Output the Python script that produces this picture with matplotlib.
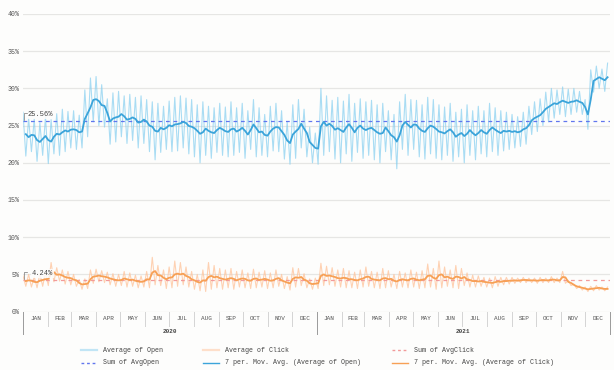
import matplotlib
matplotlib.use("Agg")
import matplotlib.pyplot as plt
import numpy as np
import pandas as pd
from matplotlib.lines import Line2D

# ---------------- data (~2 readings per week) ----------------
open_raw = [
    26.8, 20.9, 26.0, 21.5, 25.9, 20.2, 25.4, 21.0, 26.2, 19.9, 25.8, 21.2, 26.6, 21.0, 27.2, 21.5,
    26.9, 22.0, 27.0, 21.8, 26.4, 22.0, 29.8, 23.5, 31.4, 25.5, 31.6, 25.0, 30.5, 24.8, 28.6, 22.5,
    29.4, 22.8, 29.6, 23.5, 29.0, 22.6, 29.2, 23.0, 28.8, 22.0, 29.0, 22.6, 28.5, 21.5, 28.2, 20.4,
    28.0, 21.4, 27.6, 21.8, 28.3, 21.5, 28.8, 21.6, 29.0, 22.0, 28.7, 21.2, 28.5, 20.8, 27.8, 20.0,
    28.2, 21.0, 27.6, 20.6, 27.4, 21.4, 28.0, 21.0, 27.5, 20.8, 28.2, 21.0, 27.4, 21.4, 28.0, 20.6,
    27.0, 21.8, 28.5, 20.8, 27.4, 21.0, 26.5, 20.8, 27.6, 21.6, 28.0, 21.5, 27.0, 20.5, 25.5, 19.8,
    27.8, 20.6, 28.5, 22.0, 27.2, 20.8, 24.8, 20.0, 24.0, 19.8,
    30.0, 21.0, 29.0, 21.5, 28.4, 20.5, 28.8, 20.0, 28.3, 21.2, 29.2, 20.2, 28.0, 21.4, 28.6, 20.6,
    28.2, 21.0, 28.4, 20.4, 27.8, 20.0, 28.0, 21.5, 27.0, 20.4, 26.5, 19.2, 28.2, 21.8, 29.2, 21.0,
    28.5, 21.8, 28.4, 20.8, 27.8, 20.5, 28.8, 21.2, 28.5, 20.6, 27.8, 20.4, 27.5, 21.0, 28.0, 20.2,
    26.8, 20.8, 27.2, 20.0, 27.8, 21.0, 27.0, 20.4, 27.6, 21.2, 27.0, 20.8, 28.0, 21.5, 27.4, 21.0,
    27.0, 21.6, 26.8, 21.8, 26.5, 22.0, 26.2, 22.2, 26.8, 22.5, 27.6, 23.8, 28.2, 24.2, 28.6, 25.0,
    29.5, 25.5, 30.0, 26.0, 29.8, 26.5, 30.2, 26.2, 29.9, 26.5, 30.0, 26.8, 29.6, 26.5, 28.5, 24.5,
    32.5, 29.5, 33.0, 30.0, 32.6, 29.6, 33.4,
]

click_raw = [
    4.8, 3.4, 5.0, 3.3, 4.7, 3.2, 5.1, 3.4, 5.3, 3.5, 6.6, 4.0, 5.9, 4.1, 5.6, 3.7,
    5.4, 3.6, 5.0, 3.4, 4.3, 3.0, 4.4, 3.1, 5.6, 3.8, 5.7, 4.0, 5.5, 3.9, 5.3, 3.6,
    5.1, 3.4, 5.0, 3.5, 5.4, 3.3, 5.2, 3.4, 4.9, 3.2, 4.8, 3.3, 5.4, 3.2, 7.3, 3.6,
    6.2, 3.5, 5.6, 3.1, 6.0, 3.2, 6.8, 3.4, 6.6, 3.6, 6.0, 3.3, 5.4, 3.0, 5.0, 2.8,
    5.6, 2.7, 6.6, 3.0, 6.2, 3.2, 5.8, 3.0, 5.6, 3.2, 5.8, 3.0, 5.4, 3.3, 5.6, 3.2,
    5.2, 3.1, 5.7, 3.2, 5.3, 3.3, 5.5, 3.1, 5.2, 3.2, 5.6, 3.4, 5.0, 3.1, 4.7, 2.9,
    5.9, 3.3, 5.8, 3.5, 5.1, 3.2, 4.4, 3.0, 4.5, 3.1,
    6.5, 3.5, 6.1, 3.6, 5.9, 3.4, 5.6, 3.3, 5.8, 3.2, 5.5, 3.2, 5.3, 3.1, 5.6, 3.3,
    6.0, 3.4, 5.4, 3.2, 5.3, 3.1, 5.8, 3.2, 5.5, 3.3, 5.0, 3.1, 5.4, 3.3, 5.2, 3.2,
    5.6, 3.3, 5.3, 3.1, 5.5, 3.2, 6.4, 3.3, 5.8, 3.0, 6.8, 3.2, 6.0, 3.4, 5.6, 3.2,
    6.2, 3.1, 5.8, 3.5, 5.2, 3.3, 4.9, 3.3, 4.8, 3.4, 4.6, 3.3, 4.5, 3.2, 4.7, 3.4,
    4.6, 3.6, 4.6, 3.7, 4.6, 3.8, 4.5, 3.9, 4.6, 3.9, 4.5, 3.9, 4.5, 3.8, 4.6, 3.9,
    4.5, 3.9, 4.7, 3.9, 4.5, 3.9, 5.4, 3.8, 4.2, 3.5, 3.7, 3.1, 3.5, 2.9, 3.3, 2.7,
    3.4, 2.8, 3.5, 2.9, 3.3, 2.8, 3.3,
]

AVG_OPEN = 25.56
AVG_CLICK = 4.24
months = ["JAN", "FEB", "MAR", "APR", "MAY", "JUN", "JUL", "AUG", "SEP", "OCT", "NOV", "DEC"]
years = ["2020", "2021"]
y_ticks = [0, 5, 10, 15, 20, 25, 30, 35, 40]

# ---------------- styling ----------------
FONT = ["Liberation Mono", "DejaVu Sans Mono"]
plt.rcParams["font.family"] = FONT
BG = "#fdfdfc"
C_OPEN_RAW = "#86cff0"
C_OPEN_MA = "#3ba4da"
C_OPEN_AVG = "#6176ee"
C_CLICK_RAW = "#ffc39a"
C_CLICK_MA = "#f7a055"
C_CLICK_AVG = "#f29a9a"

W, H = 614, 370
fig = plt.figure(figsize=(W / 100, H / 100), dpi=100, facecolor=BG)
x0, x1, ytop, ybot = 23, 610, 14, 311.6
ax = fig.add_axes([x0 / W, (H - ybot) / H, (x1 - x0) / W, (ybot - ytop) / H])
ax.set_facecolor(BG)

dates = pd.date_range("2020-01-01", periods=len(open_raw), freq="84h")
s_open = pd.Series(open_raw, index=dates)
s_click = pd.Series(click_raw, index=dates)
ma_open = s_open.rolling(2).mean()
ma_click = s_click.rolling(2).mean()

start, end = pd.Timestamp("2020-01-01"), pd.Timestamp("2022-01-01")
ax.set_xlim(start, end)
ax.set_ylim(0, 40)

for v in y_ticks:
    ax.axhline(v, color="#e6e6e4", lw=0.9, zorder=0)

ax.plot(dates, open_raw, color=C_OPEN_RAW, lw=0.8, alpha=0.7, zorder=2)
ax.plot(dates, click_raw, color=C_CLICK_RAW, lw=0.8, alpha=0.75, zorder=2)
ax.axhline(AVG_OPEN, color=C_OPEN_AVG, lw=0.9, ls=(0, (3, 3)), zorder=3)
ax.axhline(AVG_CLICK, color=C_CLICK_AVG, lw=0.9, ls=(0, (3, 3)), zorder=3)
ax.plot(dates, ma_open, color=C_OPEN_MA, lw=1.3, zorder=4)
ax.plot(dates, ma_click, color=C_CLICK_MA, lw=1.3, zorder=4)

# y axis
ax.set_yticks(y_ticks)
ax.set_yticklabels([f"{v}%" for v in y_ticks], fontsize=4.8, color="#555555")
ax.tick_params(axis="y", length=0, pad=2.5)
ax.set_xticks([])
for sp in ax.spines.values():
    sp.set_visible(False)

# value labels for the average lines
ytr = ax.get_yaxis_transform()
def px_to_frac(px):
    return (px - x0) / (x1 - x0)
def py_to_val(py):
    return (ybot - py) / (ybot - ytop) * 40

for val, tx in [(AVG_OPEN, 28), (AVG_CLICK, 32)]:
    yl = (ybot - (ybot - ytop) * val / 40)
    ax.text(px_to_frac(tx), py_to_val(yl - 6.5), f"{val:.2f}%", transform=ytr,
            fontsize=5, color="#444444", va="center", ha="left", zorder=6,
            bbox=dict(boxstyle="square,pad=0.1", fc=BG, ec="none", alpha=0.85))
    ax.plot([px_to_frac(24), px_to_frac(24), px_to_frac(27)],
            [py_to_val(yl - 1.5), py_to_val(yl - 8), py_to_val(yl - 8)],
            transform=ytr, color="#777777", lw=0.5, zorder=6, clip_on=False)

# hierarchical month / year axis
xtr = ax.get_xaxis_transform()
def py_frac(py):
    return (ybot - py) / (ybot - ytop)

month_starts = pd.date_range(start, end, freq="MS")
for i, ms in enumerate(month_starts[:-1]):
    me = month_starts[i + 1]
    mid = ms + (me - ms) / 2
    ax.text(mid, py_frac(318.5), months[i % 12], transform=xtr, ha="center", va="center",
            fontsize=4.3, color="#555555", clip_on=False)
for i, ms in enumerate(month_starts):
    if ms.month == 1:
        ax.plot([ms, ms], [py_frac(312), py_frac(334)], transform=xtr, color="#9a9a9a",
                lw=0.7, clip_on=False)
    else:
        ax.plot([ms, ms], [py_frac(312), py_frac(326)], transform=xtr, color="#d4d4d4",
                lw=0.7, clip_on=False)
for j, yr in enumerate(years):
    ys = pd.Timestamp(f"{yr}-01-01")
    ye = pd.Timestamp(f"{int(yr) + 1}-01-01")
    ax.text(ys + (ye - ys) / 2, py_frac(331.5), yr, transform=xtr, ha="center", va="center",
            fontsize=4.3, color="#444444", fontweight="bold", clip_on=False)

# legend (manual layout)
legend_items = [
    (81, 350, "Average of Open", C_OPEN_RAW, "-", 1.6, 0.5),
    (203, 350, "Average of Click", C_CLICK_RAW, "-", 1.6, 0.5),
    (392, 350, "Sum of AvgClick", C_CLICK_AVG, (0, (2, 2)), 1.0, 1.0),
    (81, 363, "Sum of AvgOpen", C_OPEN_AVG, (0, (2, 2)), 1.0, 1.0),
    (203, 363, "7 per. Mov. Avg. (Average of Open)", C_OPEN_MA, "-", 1.0, 1.0),
    (392, 363, "7 per. Mov. Avg. (Average of Click)", C_CLICK_MA, "-", 1.0, 1.0),
]
for lx, ly, lab, col, ls, lw, al in legend_items:
    fy = (H - ly) / H
    fig.add_artist(Line2D([lx / W, (lx + 16) / W], [fy, fy], color=col, ls=ls, lw=lw,
                          alpha=al, transform=fig.transFigure))
    fig.text((lx + 22) / W, fy, lab, fontsize=4.8, color="#444444", va="center", ha="left")

fig.savefig("out.png", dpi=100, facecolor=BG)
